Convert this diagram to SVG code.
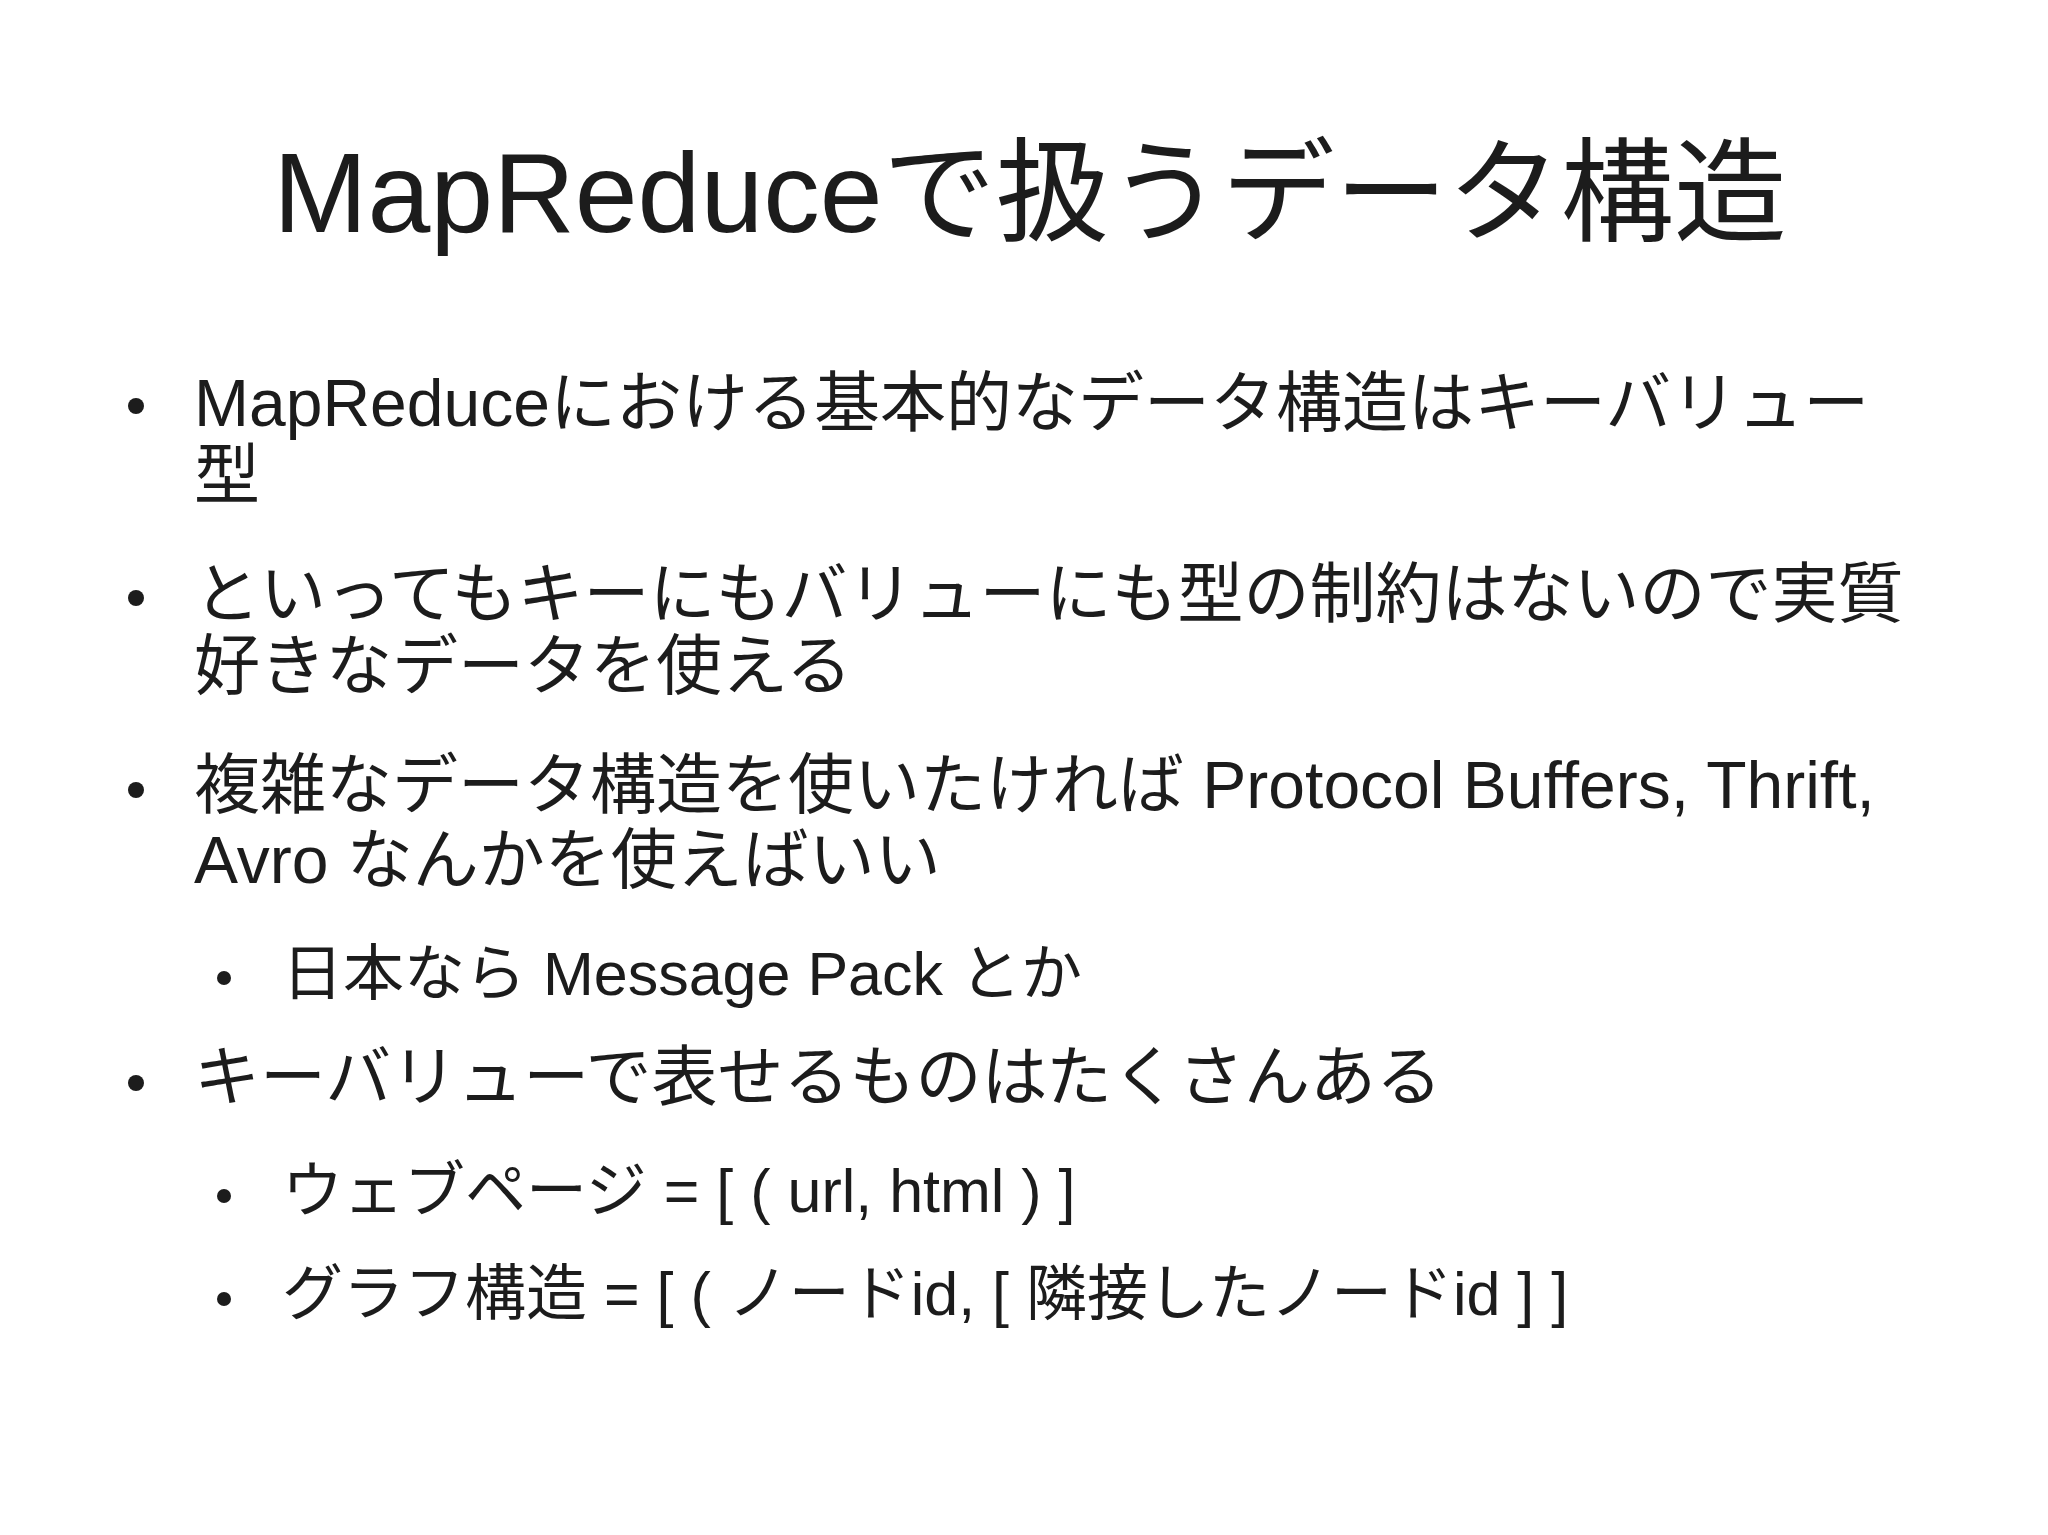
<svg xmlns="http://www.w3.org/2000/svg" width="2048" height="1535" viewBox="0 0 2048 1535">
<style>
text{font-family:"Liberation Sans","Noto Sans CJK JP",sans-serif;fill:#1c1c1c;font-size:66px}
.s{font-size:61px}
.t{font-size:113px}
circle{fill:#1c1c1c}
</style>
<rect width="2048" height="1535" fill="#fff"/>
<g id="title"><text class="t" x="1030" y="232" text-anchor="middle">MapReduceで扱うデータ構造</text></g>
<g id="bullets">
<circle cx="136" cy="406" r="8"/><circle cx="136" cy="598" r="8"/><circle cx="136" cy="790" r="8"/><circle cx="224" cy="978" r="7"/><circle cx="136" cy="1083" r="8"/><circle cx="224" cy="1196" r="7"/><circle cx="224" cy="1299" r="7"/>
<text x="194" y="426">MapReduceにおける基本的なデータ構造はキーバリュー</text>
<text x="194" y="498">型</text>
<text x="194" y="617">といってもキーにもバリューにも型の制約はないので実質</text>
<text x="194" y="689">好きなデータを使える</text>
<text x="194" y="808">複雑なデータ構造を使いたければ Protocol Buffers, Thrift,</text>
<text x="194" y="883">Avro なんかを使えばいい</text>
<text class="s" x="282" y="995">日本なら Message Pack とか</text>
<text x="194" y="1100">キーバリューで表せるものはたくさんある</text>
<text class="s" x="282" y="1212">ウェブページ = [ ( url, html ) ]</text>
<text class="s" x="282" y="1315">グラフ構造 = [ ( ノードid, [ 隣接したノードid ] ]</text>
</g>
</svg>
